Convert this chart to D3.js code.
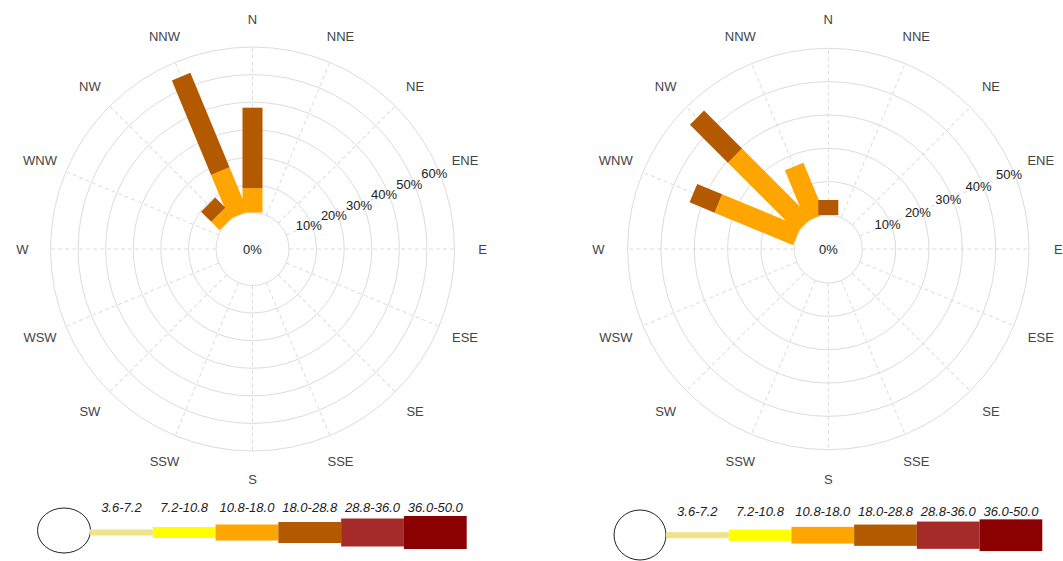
<!DOCTYPE html>
<html>
<head>
<meta charset="utf-8">
<script src="https://cdn.jsdelivr.net/npm/d3@7"></script>
<style>
  html, body { margin: 0; padding: 0; background: #fff; }
  svg { display: block; }
  text { font-family: "Liberation Sans", Arial, sans-serif; }
</style>
</head>
<body>
<svg id="chart" width="1063" height="561"></svg>
<script>
// ---------- data ----------
const directions = ["N","NNE","NE","ENE","E","ESE","SE","SSE","S","SSW","SW","WSW","W","WNW","NW","NNW"];
const speedBins = ["3.6-7.2","7.2-10.8","10.8-18.0","18.0-28.8","28.8-36.0","36.0-50.0"];
const binColors = ["#eee28c","#ffff00","#ffa500","#b35a00","#a52a2a","#8b0000"];

// Left rose: frequency (%) per direction for each speed bin
const leftBin1 = [0,0,0,0,0,0,0,0,0,0,0,0,0,0,0,0];
const leftBin2 = [0,0,0,0,0,0,0,0,0,0,0,0,0,0,0,0];
const leftBin3 = [8.8,0,0,0,0,0,0,0,0,0,0,0,0,0,4.3,17.3];
const leftBin4 = [29.2,0,0,0,0,0,0,0,0,0,0,0,0,0,5.2,37.1];
const leftBin5 = [0,0,0,0,0,0,0,0,0,0,0,0,0,0,0,0];
const leftBin6 = [0,0,0,0,0,0,0,0,0,0,0,0,0,0,0,0];
const leftTicks = [10,20,30,40,50,60];

// Right rose
const rightBin1 = [0,0,0,0,0,0,0,0,0,0,0,0,0,0,0,0];
const rightBin2 = [0,0,0,0,0,0,0,0,0,0,0,0,0,0,0,0];
const rightBin3 = [0,0,0,0,0,0,0,0,0,0,0,0,0,25.5,29.4,16.6];
const rightBin4 = [4.5,0,0,0,0,0,0,0,0,0,0,0,0,8.1,16.1,0];
const rightBin5 = [0,0,0,0,0,0,0,0,0,0,0,0,0,0,0,0];
const rightBin6 = [0,0,0,0,0,0,0,0,0,0,0,0,0,0,0,0];
const rightTicks = [10,20,30,40,50];

// ---------- drawing ----------
const svg = d3.select("#chart");
svg.append("rect").attr("width",1063).attr("height",561).attr("fill","#fff");

function drawRose(cfg) {
  const g = svg.append("g").attr("transform", `translate(${cfg.cx},${cfg.cy})`);
  const maxV = cfg.ticks[cfg.ticks.length-1];
  const r = d3.scaleLinear().domain([0, maxV]).range([cfg.innerR, cfg.outerR]);
  const ang = d3.scalePoint().domain(directions).range([0, 360 - 22.5]);

  // rings
  g.selectAll("circle.ring").data([0].concat(cfg.ticks)).join("circle")
    .attr("r", d => r(d)).attr("fill","none")
    .attr("stroke","#dcdcdc").attr("stroke-width",1);

  // spokes
  g.selectAll("line.spoke").data(directions).join("line")
    .attr("transform", d => `rotate(${ang(d)})`)
    .attr("x1",0).attr("x2",0)
    .attr("y1", -r(0)).attr("y2", -r(maxV))
    .attr("stroke","#dddddd").attr("stroke-width",1)
    .attr("stroke-dasharray","4,3");

  // stacked bars
  const rows = directions.map((d,i) => {
    const o = {dir: d};
    speedBins.forEach((b,j) => { o[b] = cfg.bins[j][i]; });
    return o;
  });
  const stack = d3.stack().keys(speedBins)(rows);
  const barW = 20;
  stack.forEach((layer, j) => {
    g.append("g").selectAll("rect").data(layer.filter(s => s[1] - s[0] > 0)).join("rect")
      .attr("transform", s => `rotate(${ang(s.data.dir)})`)
      .attr("x", -barW/2).attr("width", barW)
      .attr("y", s => -r(s[1]))
      .attr("height", s => r(s[1]) - r(s[0]))
      .attr("fill", binColors[j]);
  });

  // direction labels
  const labR = 230;
  g.selectAll("text.dir").data(directions).join("text")
    .attr("x", d => labR * Math.sin(ang(d) * Math.PI/180))
    .attr("y", d => -labR * Math.cos(ang(d) * Math.PI/180))
    .attr("text-anchor","middle").attr("dominant-baseline","central")
    .attr("font-size",13).attr("fill","#444").text(d => d);

  // percent labels along ENE
  const a = 67.5 * Math.PI/180;
  g.selectAll("text.pct").data(cfg.ticks).join("text")
    .attr("x", d => r(d) * 0.985 * Math.sin(a) - 2)
    .attr("y", d => -r(d) * 0.985 * Math.cos(a) + 1)
    .attr("text-anchor","middle").attr("dominant-baseline","central")
    .attr("font-size",13).attr("fill","#222").text(d => d + "%");

  g.append("text").attr("x",0).attr("y",0)
    .attr("text-anchor","middle").attr("dominant-baseline","central")
    .attr("font-size",13).attr("fill","#222").text("0%");
}

function drawLegend(cfg) {
  const g = svg.append("g");
  g.append("ellipse").attr("cx", cfg.ex).attr("cy", cfg.ey)
    .attr("rx", cfg.rx).attr("ry", cfg.ry)
    .attr("fill","#fff").attr("stroke","#222").attr("stroke-width",1);
  const x = d3.scaleBand().domain(speedBins).range([cfg.x0, cfg.x1]).padding(0);
  const h = d3.scaleOrdinal().domain(speedBins).range(cfg.heights);
  g.selectAll("rect").data(speedBins).join("rect")
    .attr("x", d => x(d)).attr("width", x.bandwidth())
    .attr("y", d => cfg.by - h(d)/2).attr("height", d => h(d))
    .attr("fill", (d,i) => binColors[i]);
  g.selectAll("text").data(speedBins).join("text")
    .attr("x", d => x(d) + x.bandwidth()/2).attr("y", cfg.ty)
    .attr("text-anchor","middle").attr("font-size",13).attr("font-style","italic")
    .attr("fill","#222").text(d => d);
}

drawRose({cx:252.5, cy:249, innerR:36.5, outerR:202, ticks:leftTicks,
  bins:[leftBin1,leftBin2,leftBin3,leftBin4,leftBin5,leftBin6]});
drawRose({cx:828.3, cy:249, innerR:34, outerR:200.7, ticks:rightTicks,
  bins:[rightBin1,rightBin2,rightBin3,rightBin4,rightBin5,rightBin6]});

drawLegend({ex:64, ey:530.5, rx:26.5, ry:22.5, x0:90, x1:466.7, by:532.5, ty:511.5,
  heights:[6,11,16,21,28,33]});
drawLegend({ex:640, ey:535, rx:26, ry:25, x0:666, x1:1042.3, by:535.2, ty:515.5,
  heights:[6,11.3,16.7,21.3,27.3,31.7]});
</script>
</body>
</html>
